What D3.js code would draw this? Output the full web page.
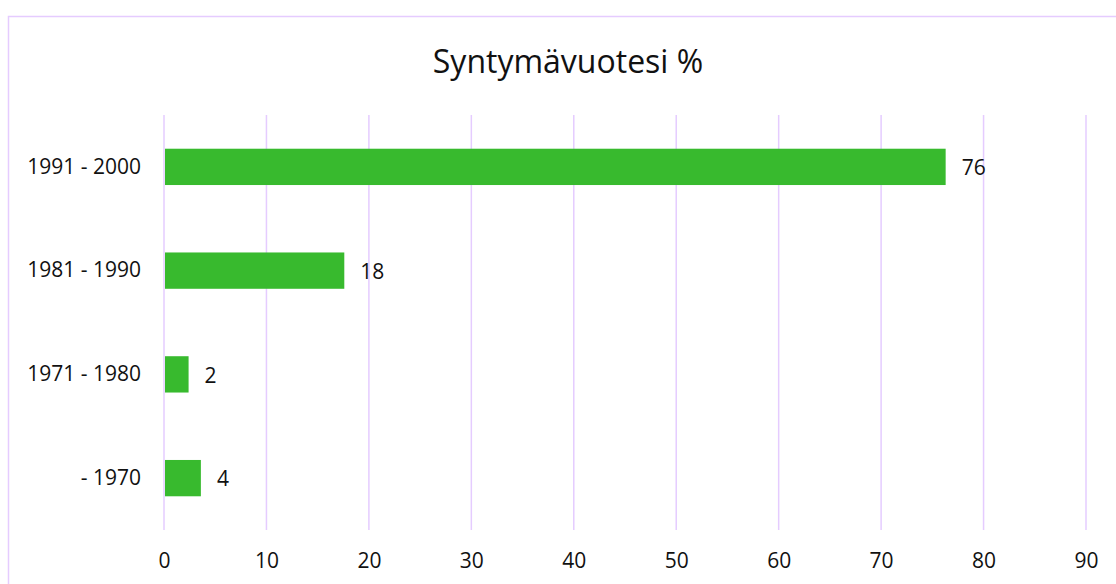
<!DOCTYPE html>
<html>
<head>
<meta charset="utf-8">
<script src="https://cdn.jsdelivr.net/npm/d3@7"></script>
<style>
  html, body { margin: 0; padding: 0; background: #fff; }
  svg { display: block; }
</style>
</head>
<body>
<div id="chart"></div>
<script>
const categories = ['1991 - 2000', '1981 - 1990', '1971 - 1980', '- 1970']
const values = [76.3, 17.6, 2.4, 3.6]
const labels = ['76', '18', '2', '4']
const ticks = [0, 10, 20, 30, 40, 50, 60, 70, 80, 90]
const title = 'Syntymävuotesi %'

const width = 1116
const height = 584
const margin = { top: 115, right: 30, bottom: 54, left: 164 }
const font = '"Open Sans", "Noto Sans", sans-serif'
const gridColor = '#E5CCFF'

const svg = d3.select('#chart')
  .append('svg')
  .attr('width', width)
  .attr('height', height)

// outer frame (runs off the right and bottom edges)
svg.append('rect')
  .attr('x', 8.5)
  .attr('y', 16.5)
  .attr('width', width + 10)
  .attr('height', height + 10)
  .attr('fill', 'none')
  .attr('stroke', gridColor)
  .attr('stroke-width', 1.5)

svg.append('text')
  .attr('x', 568)
  .attr('y', 73)
  .attr('text-anchor', 'middle')
  .attr('font-family', font)
  .attr('font-size', 32)
  .attr('fill', '#111')
  .text(title)

const x = d3.scaleLinear()
  .domain([0, 90])
  .range([margin.left, 1086])

const y = d3.scaleBand()
  .domain(categories)
  .range([margin.top, height - margin.bottom])
  .paddingInner(0.65)
  .paddingOuter(0.325)

// vertical gridlines
svg.append('g')
  .selectAll('line')
  .data(ticks)
  .join('line')
  .attr('x1', d => x(d))
  .attr('x2', d => x(d))
  .attr('y1', margin.top)
  .attr('y2', height - margin.bottom)
  .attr('stroke', gridColor)
  .attr('stroke-width', 1.5)

// x axis labels
svg.append('g')
  .attr('transform', `translate(0, ${height - margin.bottom})`)
  .call(d3.axisBottom(x).tickValues(ticks).tickSize(0).tickPadding(23))
  .call(g => g.select('.domain').remove())
  .selectAll('text')
  .attr('font-family', font)
  .attr('font-size', 21)
  .attr('fill', '#111')

// y axis labels
svg.append('g')
  .attr('transform', `translate(${margin.left}, 0)`)
  .call(d3.axisLeft(y).tickSize(0).tickPadding(23))
  .call(g => g.select('.domain').remove())
  .selectAll('text')
  .attr('font-family', font)
  .attr('font-size', 21)
  .attr('fill', '#111')

svg.append('g')
  .selectAll('rect')
  .data(values)
  .join('rect')
  .attr('x', x(0) + 1)
  .attr('y', (d, i) => y(categories[i]))
  .attr('width', d => x(d) - x(0) - 1)
  .attr('height', y.bandwidth())
  .attr('fill', '#38BA2E')

svg.append('g')
  .selectAll('text')
  .data(values)
  .join('text')
  .attr('x', d => x(d) + 16)
  .attr('y', (d, i) => y(categories[i]) + y.bandwidth() / 2 + 1)
  .attr('dy', '0.35em')
  .attr('font-family', font)
  .attr('font-size', 21)
  .attr('fill', '#111')
  .text((d, i) => labels[i])
</script>
</body>
</html>
